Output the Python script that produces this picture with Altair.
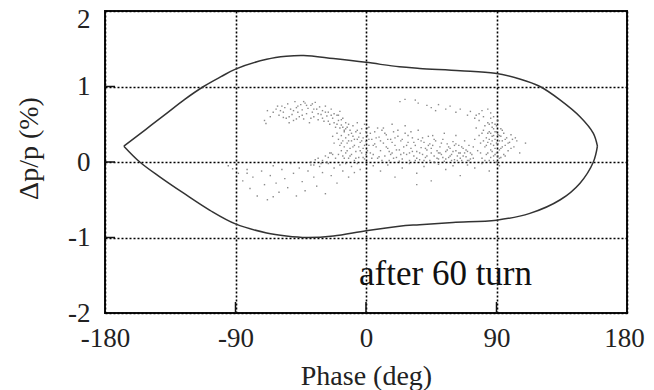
import altair as alt
import pandas as pd

# ---- separatrix (bucket boundary) ----
top_phase = [-167, -152, -137.5, -125, -112, -100, -90, -68.5, -55, -43, -22.5, 0, 23, 37, 65, 89, 106, 120, 134, 147.6, 156.8, 159.6]
top_dp    = [0.21, 0.43, 0.645, 0.83, 1.0, 1.13, 1.23, 1.36, 1.40, 1.41, 1.37, 1.32, 1.26, 1.24, 1.21, 1.175, 1.10, 1.0, 0.82, 0.60, 0.38, 0.21]
bot_phase = [-167, -156, -142, -126, -107.6, -90, -68.5, -55, -41, -22.5, 0, 23, 37, 60, 90, 113, 134, 147.6, 156.8, 159.6]
bot_dp    = [0.21, 0.0, -0.2, -0.41, -0.64, -0.82, -0.94, -0.98, -1.0, -0.98, -0.91, -0.85, -0.83, -0.80, -0.77, -0.68, -0.50, -0.28, 0.0, 0.21]

# ---- particles after 60 turns, (phase, dp) ----
arc_pts = [(-62,0.70),(-60,0.62),(-58,0.74),(-57,0.66),(-55,0.58),(-54,0.77),(-52,0.70),(-51,0.63),(-50,0.55),(-49,0.80),
           (-48,0.72),(-47,0.66),(-46,0.60),(-45,0.76),(-44,0.69),(-43,0.57),(-42,0.78),(-41,0.64),(-40,0.71),(-39,0.52),
           (-38,0.75),(-37,0.66),(-36,0.60),(-35,0.79),(-34,0.70),(-33,0.56),(-32,0.73),(-31,0.63),(-30,0.68),(-29,0.54),
           (-28,0.74),(-27,0.61),(-26,0.66),(-25,0.50),(-24,0.70),(-23,0.58),(-22,0.64),(-21,0.46),(-20,0.62),(-19,0.55),
           (-18,0.67),(-17,0.49),(-16,0.58),(-15,0.42),(-70,0.55),(-66,0.60),(-64,0.66),(-68,0.68),(-69,0.51),(-53,0.52),
           (-59,0.68),(-56,0.72),(-53,0.60),(-50,0.68),(-47,0.74),(-44,0.62),(-41,0.75),(-38,0.58),(-36,0.70),(-33,0.64),
           (-30,0.58),(-28,0.66),(-26,0.54),(-24,0.62),(-22,0.52),(-20,0.50),(-19,0.62),(-17,0.56),(-16,0.46),(-14,0.52),
           (-12,0.50),(-61,0.74),(-57,0.59),(-48,0.57),(-43,0.80),(-37,0.77)]
desc_pts = [(-20,0.38),(-19,0.30),(-18,0.22),(-18,0.45),(-17,0.35),(-17,0.15),(-16,0.28),(-16,0.08),(-15,0.40),(-15,0.20),
            (-14,0.32),(-14,0.12),(-13,0.46),(-13,0.25),(-12,0.05),(-12,0.36),(-11,0.18),(-11,0.42),(-10,0.28),(-10,0.10),
            (-9,0.48),(-9,0.34),(-8,0.22),(-8,0.02),(-7,0.40),(-7,0.14),(-6,0.30),(-6,0.52),(-5,0.20),(-5,0.06),
            (-4,0.38),(-4,0.26),(-3,0.44),(-3,0.12),(-2,0.32),(-2,0.18),(-1,0.50),(-1,0.04),(0,0.27),(0,0.40),
            (1,0.15),(1,0.35),(2,0.22),(2,0.46),(-22,0.25),(-24,0.12),(-21,0.05),(-23,0.34),
            (-38,0.00),(-35,0.03),(-33,0.05),(-30,0.02),(-28,0.08),(-26,0.06),(-25,0.12),(-23,0.10),(-27,0.00),(-31,-0.02),(-36,-0.04),
            (-19,0.10),(-17,0.25),(-15,0.05),(-14,0.44),(-13,0.15),(-12,0.28),(-11,0.08),(-10,0.38),(-9,0.20),(-8,0.30),
            (-7,0.05),(-6,0.42),(-5,0.33),(-4,0.15),(-3,0.28),(-2,0.06),(-1,0.22),(0,0.10),(1,0.45),(2,0.30)]
band_pts = [(4,0.30),(5,0.10),(6,0.40),(7,0.20),(8,0.05),(9,0.33),(10,0.15),(11,0.42),(12,0.25),(13,0.08),
            (14,0.36),(15,0.18),(16,0.02),(17,0.30),(18,0.12),(19,0.40),(20,0.22),(21,0.06),(22,0.34),(23,0.16),
            (24,0.28),(25,0.04),(26,0.20),(27,0.38),(28,0.10),(29,0.26),(30,0.02),(31,0.18),(32,0.32),(33,0.08),
            (34,0.22),(35,0.14),(36,0.30),(37,0.03),(38,0.19),(39,0.10),(40,0.26),(41,0.06),(42,0.16),(43,0.34),
            (44,0.02),(45,0.12),(46,0.22),(47,0.08),(48,0.28),(49,0.15),(50,0.04),(51,0.20),(52,0.10),(53,0.30),
            (54,0.01),(55,0.14),(56,0.24),(57,0.06),(58,0.18),(59,0.10),(60,0.27),(61,0.03),(62,0.15),(63,0.08),
            (64,0.22),(65,0.12),(66,0.02),(67,0.18),(68,0.28),(69,0.07),(70,0.14),(71,0.22),(72,0.04),(73,0.10),
            (3,0.12),(6,0.24),(9,0.07),(12,0.45),(14,0.20),(17,0.10),(20,0.32),(23,0.01),(26,0.12),(29,0.35),
            (32,0.14),(35,0.05),(38,0.28),(41,0.18),(44,0.24),(47,0.00),(50,0.12),(53,0.06),(56,0.16),(59,0.02),
            (62,0.24),(65,0.05),(68,0.12),(71,0.02),(46,0.35),(36,0.42),(27,0.48),(18,0.50),(54,0.38),(62,0.35),
            (3,0.38),(4,0.05),(5,0.22),(7,0.32),(8,0.45),(10,0.28),(11,0.02),(13,0.38),(15,0.30),(16,0.14),
            (18,0.26),(19,0.05),(21,0.16),(22,0.42),(24,0.10),(25,0.30),(28,0.22),(30,0.12),(31,0.40),(33,0.26),
            (34,0.02),(37,0.12),(39,0.32),(40,0.02),(42,0.08),(43,0.22),(45,0.18),(47,0.30),(49,0.05),(51,0.12),
            (52,0.25),(55,0.04),(57,0.20),(58,0.08),(60,0.14),(61,0.22),(63,0.02),(64,0.12),(66,0.20),(67,0.08),
            (69,0.16),(70,0.02),(72,0.12),(74,0.20),(74,0.05)]
right_pts = [(75,0.30),(76,0.45),(77,0.15),(78,0.55),(79,0.25),(80,0.38),(80,0.05),(81,0.60),(82,0.20),(82,0.48),
             (83,0.32),(83,0.10),(84,0.52),(84,0.26),(85,0.40),(85,0.02),(86,0.58),(86,0.16),(87,0.34),(87,0.46),
             (88,0.22),(88,0.08),(89,0.50),(89,0.30),(90,0.12),(90,0.40),(91,0.24),(91,0.55),(92,0.35),(92,0.05),
             (93,0.18),(93,0.44),(94,0.28),(95,0.10),(95,0.38),(96,0.22),(97,0.32),(98,0.15),(99,0.26),(100,0.36),
             (102,0.20),(104,0.28),(106,0.12),(110,0.25),(86,0.65),(84,0.70),(80,0.68),(76,0.62),(88,0.02),(90,0.00),
             (87,0.28),(89,0.18),(86,0.38),(88,0.44),(103,0.32),
             (78,0.35),(79,0.12),(81,0.28),(81,0.42),(82,0.02),(83,0.22),(84,0.38),(84,0.12),(85,0.30),(85,0.50),
             (86,0.06),(86,0.24),(87,0.14),(87,0.52),(88,0.35),(88,0.60),(89,0.10),(89,0.40),(90,0.25),(90,0.48),
             (91,0.08),(91,0.36),(92,0.16),(92,0.28),(93,0.06),(93,0.34),(94,0.20),(94,0.42),(96,0.30),(96,0.08),
             (98,0.25),(100,0.18),(101,0.30)]
upper_pts = [(34,0.82),(36,0.78),(45,0.72),(50,0.76),(55,0.70),(58,0.74),(62,0.66),(65,0.70),(70,0.62),(72,0.67),
             (75,0.58),(78,0.64),(48,0.68),(42,0.75),(23.4,0.80),(26.9,0.83)]
lower_pts = [(-95,-0.05),(-88,-0.15),(-85,-0.25),(-82,-0.10),(-80,-0.35),(-78,-0.20),(-75,-0.45),(-72,-0.12),(-70,-0.30),(-68,-0.50),
             (-66,-0.18),(-64,-0.05),(-62,-0.28),(-60,-0.40),(-58,-0.10),(-56,-0.22),(-54,-0.34),(-52,-0.02),(-50,-0.15),(-48,-0.45),
             (-46,-0.08),(-44,-0.26),(-42,-0.38),(-40,-0.12),(-38,-0.04),(-36,-0.20),(-34,-0.32),(-32,-0.06),(-30,-0.14),(-28,-0.42),
             (-26,-0.02),(-24,-0.18),(-22,-0.08),(-20,-0.28),(-18,-0.04),(-16,-0.12),(-14,-0.02),(-12,-0.20),(-10,-0.06),(-8,-0.14),
             (-6,-0.02),(-4,-0.10),(-92,-0.09),(-82,-0.15),(-64,-0.46),
             (5,-0.05),(10,-0.12),(15,-0.04),(20,-0.20),(25,-0.08),(30,-0.02),(35,-0.15),(40,-0.06),(45,-0.25),(50,-0.03),
             (55,-0.10),(60,-0.05),(65,-0.18),(70,-0.04),(75,-0.08),(80,-0.02),(85,-0.12),(92,-0.05),(35,-0.30)]

x_ticks = [-180, -90, 0, 90, 180]
y_ticks = [-2, -1, 0, 1, 2]
label_text = "after 60 turn"
label_pos = (-4.8, -1.63)

FONT = "Liberation Serif"

sep = pd.DataFrame(
    [{"phase": p, "dp": d, "branch": "top", "i": i} for i, (p, d) in enumerate(zip(top_phase, top_dp))]
    + [{"phase": p, "dp": d, "branch": "bottom", "i": i} for i, (p, d) in enumerate(zip(bot_phase, bot_dp))]
)
pts = pd.DataFrame(arc_pts + desc_pts + band_pts + right_pts + upper_pts + lower_pts, columns=["phase", "dp"])
xt_df = pd.DataFrame({"phase": x_ticks[1:-1]})
yt_df = pd.DataFrame({"dp": y_ticks[1:-1]})
txt_df = pd.DataFrame({"phase": [label_pos[0]], "dp": [label_pos[1]], "t": [label_text]})

xs = alt.Scale(domain=[-180, 180], nice=False, zero=False)
ys = alt.Scale(domain=[-2, 2], nice=False, zero=False)

x_axis = alt.Axis(values=x_ticks, labelExpr="'' + datum.value", title="Phase (deg)", ticks=False, domain=False,
                  labelFlush=False, labelOverlap=False, labelPadding=12,
                  labelOffset={"condition": {"test": "datum.value == 180", "value": -3}, "value": 0},
                  titleY=49, titleBaseline="top")
y_axis = alt.Axis(values=y_ticks, labelExpr="'' + datum.value", title="Δp/p (%)", ticks=False, domain=False,
                  labelFlush=False, labelOverlap=False, labelPadding=15,
                  labelOffset={"condition": {"test": "datum.value == 2", "value": 8}, "value": 0},
                  titleX=-62, titleY=137, titleAngle=270, titleBaseline="bottom", titleAlign="center")

X = alt.X("phase:Q", scale=xs, axis=x_axis)
Y = alt.Y("dp:Q", scale=ys, axis=y_axis)

line = alt.Chart(sep).mark_line(color="#333", strokeWidth=1.5, interpolate="catmull-rom").encode(
    x=X, y=Y, detail="branch:N", order="i:Q",
)

dots = alt.Chart(pts).mark_square(size=2, color="#777", opacity=0.85).encode(x=X, y=Y)

xt = alt.Chart(xt_df).mark_rule(color="#111", strokeWidth=1.5).encode(
    x=X, y=alt.value(302), y2=alt.value(291),
)
yt = alt.Chart(yt_df).mark_rule(color="#111", strokeWidth=1.5).encode(
    y=Y, x=alt.value(0), x2=alt.value(10),
)

txt = alt.Chart(txt_df).mark_text(
    font=FONT, fontSize=35, align="left", baseline="alphabetic", color="#111"
).encode(x=X, y=Y, text="t:N")

chart = alt.layer(line, dots, xt, yt, txt).properties(
    width=522, height=302,
    background="white",
    autosize=alt.AutoSizeParams(type="none"),
    padding={"left": 97, "top": 3, "right": 19, "bottom": 77},
).configure_view(
    stroke="#111", strokeWidth=2,
).configure_axis(
    labelFont=FONT, labelFontSize=27, labelColor="#222",
    titleFont=FONT, titleFontSize=28, titleFontWeight="normal", titleColor="#222",
    grid=True, gridColor="#000", gridDash=[2, 2], gridWidth=1.6, gridOpacity=1,
)

chart.save("out.html", embed_options={"renderer": "svg", "actions": False})
